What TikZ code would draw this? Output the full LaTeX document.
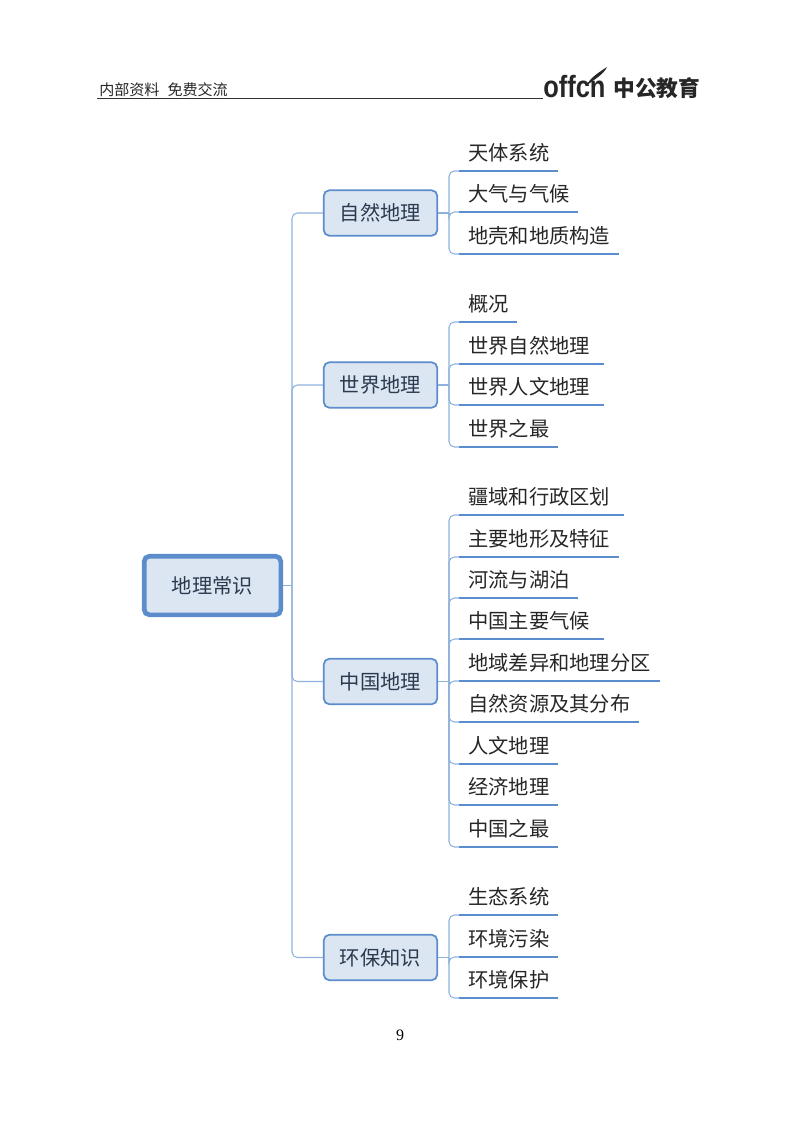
\documentclass[tikz,border=0pt]{standalone}
\usepackage{fontspec}
\setmainfont{Liberation Serif}
\newfontfamily\cjk{Noto Sans CJK SC}
\newfontfamily\logofont{Liberation Sans}
\definecolor{boxfill}{HTML}{DCE6F2}
\definecolor{boxline}{HTML}{5B8CCB}
\definecolor{linkline}{HTML}{8FB2DC}
\definecolor{inktext}{HTML}{2B3A4E}
\tikzset{
    rootbox/.style={draw=boxline, fill=boxfill, line width=3.5pt, rounded corners=4pt, minimum width=102.5pt, minimum height=44pt, inner sep=0pt, font=\cjk\fontsize{15.2}{15.2}\selectfont, text=inktext},
    branchbox/.style={draw=boxline, fill=boxfill, line width=1.3pt, rounded corners=4pt, minimum width=85pt, minimum height=34pt, inner sep=0pt, font=\cjk\fontsize{15.2}{15.2}\selectfont, text=inktext},
    leafbox/.style={anchor=south west, text width=#1*0.75pt, minimum height=27pt, inner xsep=6.75pt, inner ysep=0pt, font=\cjk\fontsize{15.2}{15.2}\selectfont, text=black!85},
    leafline/.style={draw=boxline, line width=1.7pt},
    link/.style={draw=linkline, line width=0.8pt, rounded corners=4pt}
}
\begin{document}
\begin{tikzpicture}[x=0.75pt,y=-0.75pt]
    \useasboundingbox (0,0) rectangle (800,1124);

    %Header
    \node[anchor=west, inner sep=0pt, font=\cjk\fontsize{11.3}{12}\selectfont, text=black!85] at (99,90) (title) {内部资料\hspace{6pt}免费交流};
    \coordinate (rulestart) at (97,98);
    \coordinate (ruleend) at (543,98);
    \node[anchor=base west, inner sep=0pt, font=\logofont\bfseries\fontsize{23}{23}\selectfont, text=black!85] at (543,98) (logo) {\scalebox{0.83}[1]{offcn}};
    \node[anchor=west, inner sep=0pt, font=\cjk\bfseries\fontsize{16.3}{17}\selectfont, text=black!85] at (613,88) (logotext) {中公教育};
    \draw[black!80, line width=0.7pt] (rulestart) -- (ruleend);
    \fill[black!85] (586,86) .. controls (591,77) and (598,73) .. (607,67) .. controls (603,75) and (596,78) .. (586,86);

    %Nodes
    \node[rootbox] at (212.5,585.5) (geo) {地理常识};

    \node[branchbox] at (380.5,213) (nature) {自然地理};
    \node[branchbox] at (380.5,385) (world) {世界地理};
    \node[branchbox] at (380.5,681.5) (china) {中国地理};
    \node[branchbox] at (380.5,957.5) (green) {环保知识};

    \node[leafbox=80] at (459,171) (n1) {天体系统};
    \node[leafbox=100] at (459,212) (n2) {大气与气候};
    \node[leafbox=141] at (459,254) (n3) {地壳和地质构造};

    \node[leafbox=39] at (459,322) (w1) {概况};
    \node[leafbox=126] at (459,364) (w2) {世界自然地理};
    \node[leafbox=126] at (459,405) (w3) {世界人文地理};
    \node[leafbox=80] at (459,447) (w4) {世界之最};

    \node[leafbox=146] at (459,515) (c1) {疆域和行政区划};
    \node[leafbox=141] at (459,557) (c2) {主要地形及特征};
    \node[leafbox=100] at (459,598) (c3) {河流与湖泊};
    \node[leafbox=126] at (459,639) (c4) {中国主要气候};
    \node[leafbox=182] at (459,681) (c5) {地域差异和地理分区};
    \node[leafbox=161] at (459,722) (c6) {自然资源及其分布};
    \node[leafbox=80] at (459,764) (c7) {人文地理};
    \node[leafbox=80] at (459,805) (c8) {经济地理};
    \node[leafbox=80] at (459,847) (c9) {中国之最};

    \node[leafbox=80] at (459,915) (g1) {生态系统};
    \node[leafbox=80] at (459,957) (g2) {环境污染};
    \node[leafbox=80] at (459,998) (g3) {环境保护};

    \node[inner sep=0pt, font=\fontsize{12}{12}\selectfont] at (400,1035) (page) {9};

    %Joints
    \coordinate (geojoin) at (292,585.5);
    \coordinate (naturejoin) at (449,213);
    \coordinate (worldjoin) at (449,385);
    \coordinate (chinajoin) at (449,681.5);
    \coordinate (greenjoin) at (449,957.5);

    %Lines
    \draw[link] (geo.east) -- (geojoin);
    \foreach \branch in {nature,world,china,green}
        \draw[link] (geojoin) |- (\branch.west);

    \draw[link] (nature.east) -- (naturejoin);
    \foreach \leaf in {n1,n2,n3}
        \draw[link] (naturejoin) |- (\leaf.south west);

    \draw[link] (world.east) -- (worldjoin);
    \foreach \leaf in {w1,w2,w3,w4}
        \draw[link] (worldjoin) |- (\leaf.south west);

    \draw[link] (china.east) -- (chinajoin);
    \foreach \leaf in {c1,c2,c3,c4,c5,c6,c7,c8,c9}
        \draw[link] (chinajoin) |- (\leaf.south west);

    \draw[link] (green.east) -- (greenjoin);
    \foreach \leaf in {g1,g2,g3}
        \draw[link] (greenjoin) |- (\leaf.south west);

    %Underlines
    \foreach \leaf in {n1,n2,n3,w1,w2,w3,w4,c1,c2,c3,c4,c5,c6,c7,c8,c9,g1,g2,g3}
        \draw[leafline] (\leaf.south west) -- (\leaf.south east);
\end{tikzpicture}
\end{document}
